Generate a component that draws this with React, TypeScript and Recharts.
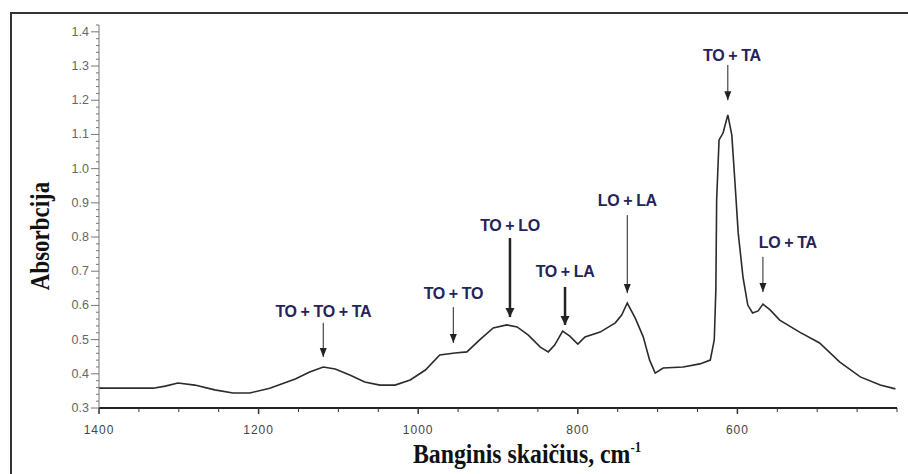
import { LineChart, Line, XAxis, YAxis, ReferenceLine, ReferenceDot, Label } from "recharts";

// IR absorption spectrum, wavenumber (cm-1) vs absorbance
const wavenumber = [
  1400, 1332, 1317, 1301, 1280, 1255, 1232, 1211, 1186, 1154, 1136, 1119, 1104, 1085, 1067, 1048, 1029, 1010,
  991, 973, 954, 939, 923, 906, 889, 876, 862, 847, 837, 829, 819, 810, 800, 791, 772, 753, 745, 738, 728, 718,
  710, 703, 693, 668, 647, 634, 629, 627, 626, 623, 618, 612, 607, 603, 599, 593, 587, 581, 574, 568, 559, 547,
  522, 497, 472, 446, 421, 402,
];
const absorbance = [
  0.358, 0.358, 0.364, 0.373, 0.367, 0.353, 0.344, 0.344, 0.358, 0.385, 0.405, 0.42, 0.414, 0.396, 0.376, 0.367,
  0.367, 0.382, 0.411, 0.455, 0.461, 0.464, 0.499, 0.534, 0.543, 0.537, 0.513, 0.478, 0.464, 0.484, 0.525, 0.51,
  0.487, 0.508, 0.522, 0.549, 0.572, 0.607, 0.563, 0.508, 0.44, 0.402, 0.417, 0.42, 0.429, 0.44, 0.499, 0.645,
  0.908, 1.084, 1.104, 1.157, 1.098, 0.958, 0.812, 0.683, 0.601, 0.578, 0.584, 0.604, 0.587, 0.557, 0.522, 0.49,
  0.435, 0.391, 0.367, 0.356,
];

const xMajorTicks = [1400, 1200, 1000, 800, 600];
const yMajorTicks = [0.3, 0.4, 0.5, 0.6, 0.7, 0.8, 0.9, 1.0, 1.1, 1.2, 1.3, 1.4];

// band assignments
const peakLabels = ["TO + TO + TA", "TO + TO", "TO + LO", "TO + LA", "LO + LA", "TO + TA", "LO + TA"];
const peakPosition = [1119, 956, 885, 816, 738, 612, 568];
const labelPosition = [1119, 956, 885, 816, 738, 607, 537];
const labelLevel = [0.581, 0.636, 0.835, 0.698, 0.908, 1.332, 0.785];
const arrowStart = [0.549, 0.595, 0.797, 0.654, 0.864, 1.303, 0.742];
const arrowTip = [0.449, 0.49, 0.566, 0.543, 0.636, 1.2, 0.639];
const heavyArrow = [false, false, true, true, false, false, false];

const data = wavenumber.map((w, i) => ({ w, a: absorbance[i] }));

const xTicks = Array.from({ length: 21 }, (_, i) => 400 + i * 50);
const yTicks = Array.from({ length: 57 }, (_, i) => Math.round((0.3 + i * 0.02) * 100) / 100);

const isMajor = (list: number[], v: number) => list.some((t) => Math.abs(t - v) < 1e-6);

const tickFont = '"Liberation Sans Narrow", "Liberation Sans", Arial, sans-serif';
const yTickFont = '"Liberation Sans", Arial, sans-serif';
const titleFont = '"Liberation Serif", "Times New Roman", serif';
const noteFont = '"Liberation Sans", Arial, sans-serif';

const YTick = (props: any) => {
  const { x, y, payload } = props;
  const major = isMajor(yMajorTicks, payload.value);
  return (
    <g>
      <line x1={x - (major ? 8 : 3)} x2={x} y1={y} y2={y} stroke="#777" strokeWidth={1} />
      {major && (
        <text x={x - 10} y={y} textAnchor="end" dominantBaseline="central" fontSize={12.5} fontFamily={yTickFont} fill="#666">
          {payload.value.toFixed(1)}
        </text>
      )}
    </g>
  );
};

const XTick = (props: any) => {
  const { x, y, payload } = props;
  const major = isMajor(xMajorTicks, payload.value);
  return (
    <g>
      <line x1={x} x2={x} y1={y} y2={y + (major ? 6 : 4)} stroke="#333" strokeWidth={major ? 1.5 : 1} />
      {major && (
        <text x={x} y={y + 22} textAnchor="middle" dominantBaseline="central" fontSize={12} letterSpacing={1}
          fontFamily={tickFont} fill="#444">
          {payload.value}
        </text>
      )}
    </g>
  );
};

const arrowHead = (heavy: boolean) => (props: any) => {
  const { cx, cy } = props;
  const hw = heavy ? 4.5 : 3.5;
  return <polygon points={`${cx - hw},${cy - 9} ${cx + hw},${cy - 9} ${cx},${cy}`} fill="#222" />;
};

const noteText = (text: string) => (props: any) => (
  <text x={props.cx} y={props.cy} textAnchor="middle" dominantBaseline="central" fontSize={16} fontWeight="bold"
    fontFamily={noteFont} fill="#24235a" letterSpacing={-0.4}>
    {text}
  </text>
);

export default function App() {
  return (
    <div style={{ position: "absolute", left: 0, top: 0, width: 908, height: 474, overflow: "hidden", background: "#fff" }}>
      <div style={{ position: "absolute", left: 10, top: 12, width: 940, height: 500, borderLeft: "2px solid #333", borderTop: "2px solid #333" }} />
      <LineChart width={908} height={474} data={data} margin={{ top: 25, right: 11, bottom: 0, left: 0 }}>
        <XAxis dataKey="w" type="number" domain={[400, 1400]} reversed ticks={xTicks} interval={0} tick={XTick}
          tickLine={false} tickSize={0} tickMargin={0} height={66} axisLine={{ stroke: "#222", strokeWidth: 2 }}>
          <Label
            content={() => (
              <text transform="translate(527,463) scale(0.85,1)" textAnchor="middle" fontSize={28} fontWeight="bold"
                fontFamily={titleFont} fill="#111">
                Banginis skaičius, cm<tspan dy={-11} fontSize={15}>-1</tspan>
              </text>
            )}
          />
        </XAxis>
        <YAxis type="number" domain={[0.3, 1.42]} ticks={yTicks} interval={0} tick={YTick} tickLine={false}
          tickSize={0} tickMargin={0} width={99} axisLine={{ stroke: "#777" }}>
          <Label
            content={() => (
              <text transform="translate(49,236) rotate(-90) scale(0.85,1)" textAnchor="middle" fontSize={27}
                fontWeight="bold" fontFamily={titleFont} fill="#111">
                Absorbcija
              </text>
            )}
          />
        </YAxis>
        <Line type="linear" dataKey="a" stroke="#2b2b2b" strokeWidth={1.6} dot={false} isAnimationActive={false} />
        {peakLabels.map((label, i) => (
          <ReferenceLine key={`s${i}`} segment={[{ x: peakPosition[i], y: arrowStart[i] }, { x: peakPosition[i], y: arrowTip[i] }]}
            stroke="#222" strokeWidth={heavyArrow[i] ? 2.5 : 1} />
        ))}
        {peakLabels.map((label, i) => (
          <ReferenceDot key={`h${i}`} x={peakPosition[i]} y={arrowTip[i]} shape={arrowHead(heavyArrow[i])} />
        ))}
        {peakLabels.map((label, i) => (
          <ReferenceDot key={`t${i}`} x={labelPosition[i]} y={labelLevel[i]} shape={noteText(label)} />
        ))}
      </LineChart>
    </div>
  );
}
